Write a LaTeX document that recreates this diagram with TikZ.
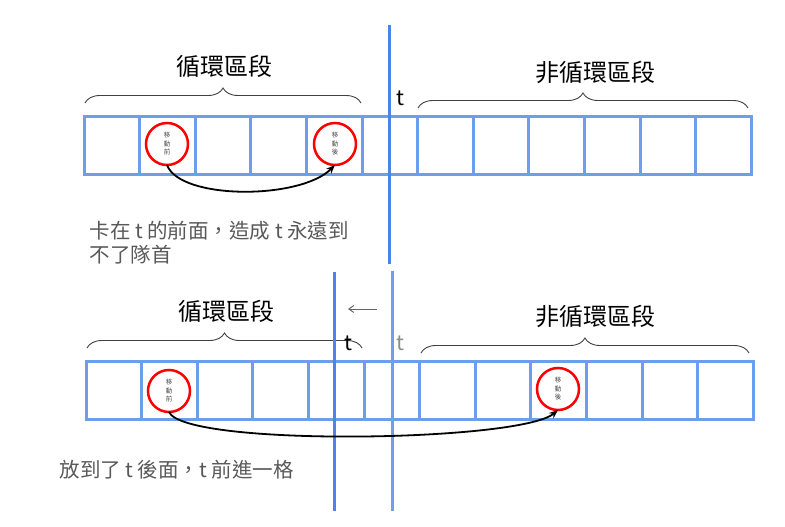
\documentclass[tikz,border=0pt]{standalone}
\usepackage{fontspec}
\setmainfont{Noto Sans CJK TC}
\usetikzlibrary{decorations.pathreplacing,arrows.meta}
\definecolor{cellblue}{HTML}{6D9EEB}
\definecolor{lineblue}{HTML}{4A86E8}
\definecolor{linelight}{HTML}{6F9FEC}
\definecolor{txtgray}{HTML}{595959}
\begin{document}
\begin{tikzpicture}[x=1pt,y=-1pt,
  cell/.style={draw=cellblue, line width=3pt, minimum width=55.6pt, minimum height=58pt, inner sep=0pt, outer sep=0pt},
  hl/.style={circle, draw=red, line width=2.5pt, fill=white, minimum size=42pt, inner sep=0pt, outer sep=0pt, font=\fontsize{6.5}{8.5}\selectfont, align=center, text=black!70},
  brc/.style={decorate, decoration={brace, amplitude=15pt}, draw=black!75, line width=0.9pt},
  title/.style={font=\fontsize{24}{28}\selectfont},
  tlabel/.style={font=\fontsize{21}{24}\selectfont},
  note/.style={font=\fontsize{20.5}{24}\selectfont, text=txtgray, align=left, anchor=west},
  vline/.style={line width=3pt},
  move/.style={-{Stealth[length=9pt,width=7pt]}, line width=1.8pt, black}
]
\useasboundingbox (0,0) rectangle (785,527);
% top row
\foreach \i in {1,...,12}
  \node[cell] (a\i) at ({84+55.6*(\i-0.5)},145) {};
% bottom row
\foreach \i in {1,...,12}
  \node[cell] (b\i) at ({86+55.6*(\i-0.5)},390) {};

% braces and titles (top)
\coordinate (tb1l) at (85,103);
\coordinate (tb1r) at (361,103);
\coordinate (tb2l) at (418,108);
\coordinate (tb2r) at (748,108);
\draw[brc] (tb1l) -- (tb1r);
\draw[brc] (tb2l) -- (tb2r);
\node[title] (ttitle1) at (224,66) {循環區段};
\node[title] (ttitle2) at (595,72) {非循環區段};
\node[tlabel] (tt) at (400,98) {t};

% braces and titles (bottom)
\coordinate (bb1l) at (87,348);
\coordinate (bb1r) at (362,348);
\coordinate (bb2l) at (421,353);
\coordinate (bb2r) at (749,353);
\draw[brc] (bb1l) -- (bb1r);
\draw[brc] (bb2l) -- (bb2r);
\node[title] (btitle1) at (226,311) {循環區段};
\node[title] (btitle2) at (595,316) {非循環區段};
\node[tlabel] (bt1) at (348,343) {t};
\node[tlabel, text=black!45] (bt2) at (400,343) {t};

% vertical lines
\coordinate (v1t) at (389,25);
\coordinate (v1b) at (389,264);
\draw[vline, lineblue] (v1t) -- (v1b);
\coordinate (v2t) at (334,272);
\coordinate (v2b) at (334,511);
\draw[vline, lineblue] (v2t) -- (v2b);
\coordinate (v3t) at (392,271);
\coordinate (v3b) at (392,511);
\draw[vline, linelight] (v3t) -- (v3b);

% small gray arrow
\coordinate (ga1) at (377,309);
\coordinate (ga2) at (348,309);
\draw[black!60, line width=1pt, -{Straight Barb[length=5pt,width=7pt]}] (ga1) -- (ga2);

% circles (top)
\node[hl] (c1) at (167,144) {移\\動\\前};
\node[hl] (c2) at (335,144) {移\\動\\後};
\draw[move] (c1.south) .. controls (180,200) and (300,200) .. (c2.south);

% circles (bottom)
\node[hl] (d1) at (169,391) {移\\動\\前};
\node[hl] (d2) at (558,389) {移\\動\\後};
\draw[move] (d1.south) .. controls (185,447) and (520,442) .. (d2.south);

% notes
\node[note] (n1) at (86,243) {卡在 t 的前面，造成 t 永遠到\\不了隊首};
\node[note] (n2) at (56,470) {放到了 t 後面，t 前進一格};
\end{tikzpicture}
\end{document}
